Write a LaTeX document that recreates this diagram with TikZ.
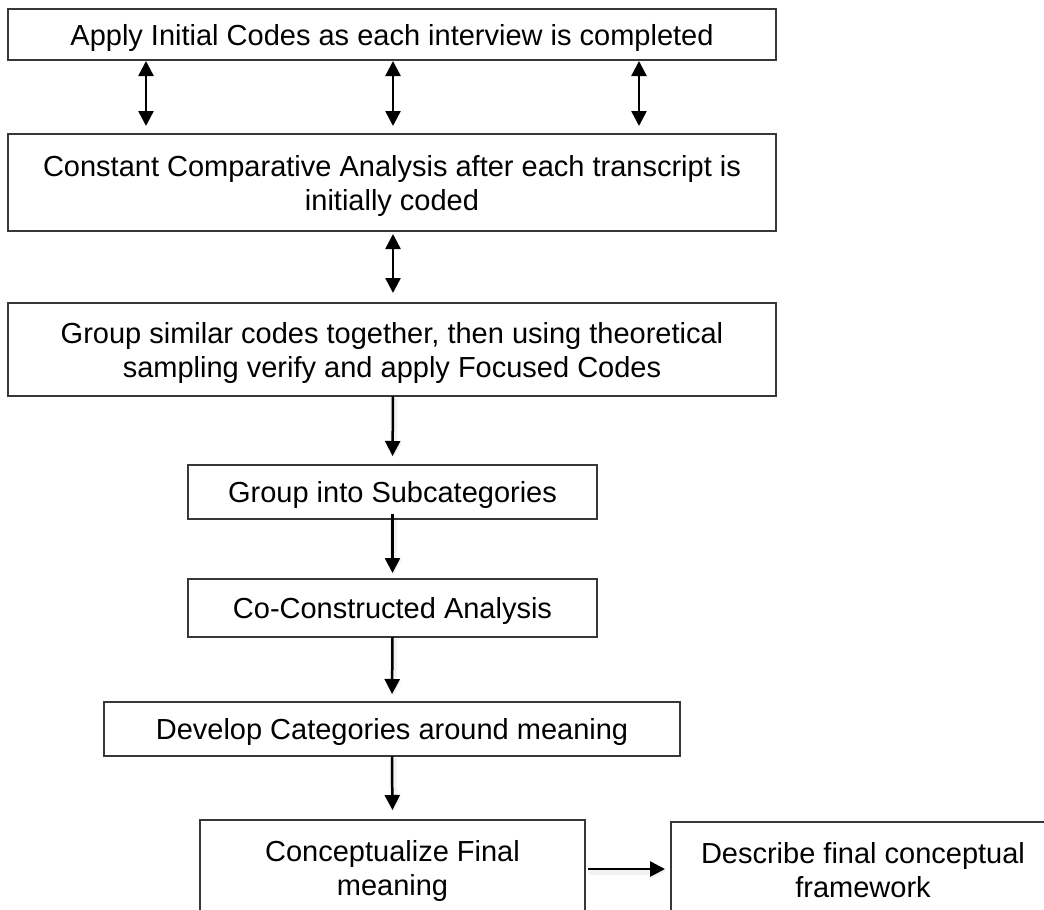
\documentclass[tikz,border=0pt]{standalone}
\usepackage{fontspec}
\setmainfont{Liberation Sans}
\usetikzlibrary{arrows.meta}

\tikzset{
  stepbox/.style={draw=black!78, line width=1.5pt, fill=white, inner sep=0pt,
    outer sep=0pt, align=center, text depth=0pt,
    font=\fontsize{29}{34}\selectfont},
  tiph/.tip={Triangle[length=15pt,width=15pt]},
  twoway/.style={line width=2.5pt, {tiph}-{tiph}},
  oneway/.style={line width=2.5pt, -{tiph},
    preaction={draw=black, opacity=0.05, line width=7pt,
      transform canvas={shift={(1pt,-2pt)}}}},
}

\begin{document}
\begin{tikzpicture}[x=1pt, y=-1pt]
  \useasboundingbox (0,0) rectangle (1044,910);
  \fill[white] (0,0) rectangle (1044,910);
  \begin{scope}
    \clip (0,0) rectangle (1044,910);

    % process boxes
    \node[stepbox, minimum width=768pt, minimum height=51pt] (b1) at (392,34.5)
      {Apply Initial Codes as each interview is completed};
    \node[stepbox, minimum width=768pt, minimum height=97pt] (b2) at (392,182.5)
      {Constant Comparative Analysis after each transcript is\\initially coded};
    \node[stepbox, minimum width=768pt, minimum height=93pt] (b3) at (392,349.5)
      {Group similar codes together, then using theoretical\\sampling verify and apply Focused Codes};
    \node[stepbox, minimum width=409pt, minimum height=54pt] (b4) at (392.5,492)
      {Group into Subcategories};
    \node[stepbox, minimum width=409pt, minimum height=58pt] (b5) at (392.5,608)
      {Co-Constructed Analysis};
    \node[stepbox, minimum width=576pt, minimum height=54pt] (b6) at (392,729)
      {Develop Categories around meaning};
    \node[stepbox, minimum width=385pt, minimum height=96pt] (b7) at (392.5,868)
      {Conceptualize Final\\meaning};
    \node[stepbox, minimum width=384pt, minimum height=96pt] (b8) at (863,870)
      {Describe final conceptual\\framework};

    % two-way links between the first three stages
    \draw[twoway, shorten <=1pt, shorten >=8pt]
      ([xshift=-246pt]b1.south) -- ([xshift=-246pt]b2.north);
    \draw[twoway, shorten <=1pt, shorten >=8pt]
      ([xshift=1pt]b1.south) -- ([xshift=1pt]b2.north);
    \draw[twoway, shorten <=1pt, shorten >=8pt]
      ([xshift=247pt]b1.south) -- ([xshift=247pt]b2.north);
    \draw[twoway, shorten <=3pt, shorten >=10pt]
      ([xshift=1pt]b2.south) -- ([xshift=1pt]b3.north);

    % one-way flow
    \draw[oneway, shorten >=9pt] ([xshift=1pt]b3.south) -- (b4.north);
    \draw[oneway, shorten <=-5pt, shorten >=6pt] (b4.south) -- (b5.north);
    \draw[oneway, shorten >=8pt] (b5.south) -- (b6.north);
    \draw[oneway, shorten >=10pt] (b6.south) -- (b7.north);
    \draw[oneway, shorten <=3pt, shorten >=6pt]
      (b7.east |- 0,869) -- (b8.west |- 0,869);
  \end{scope}
\end{tikzpicture}
\end{document}
